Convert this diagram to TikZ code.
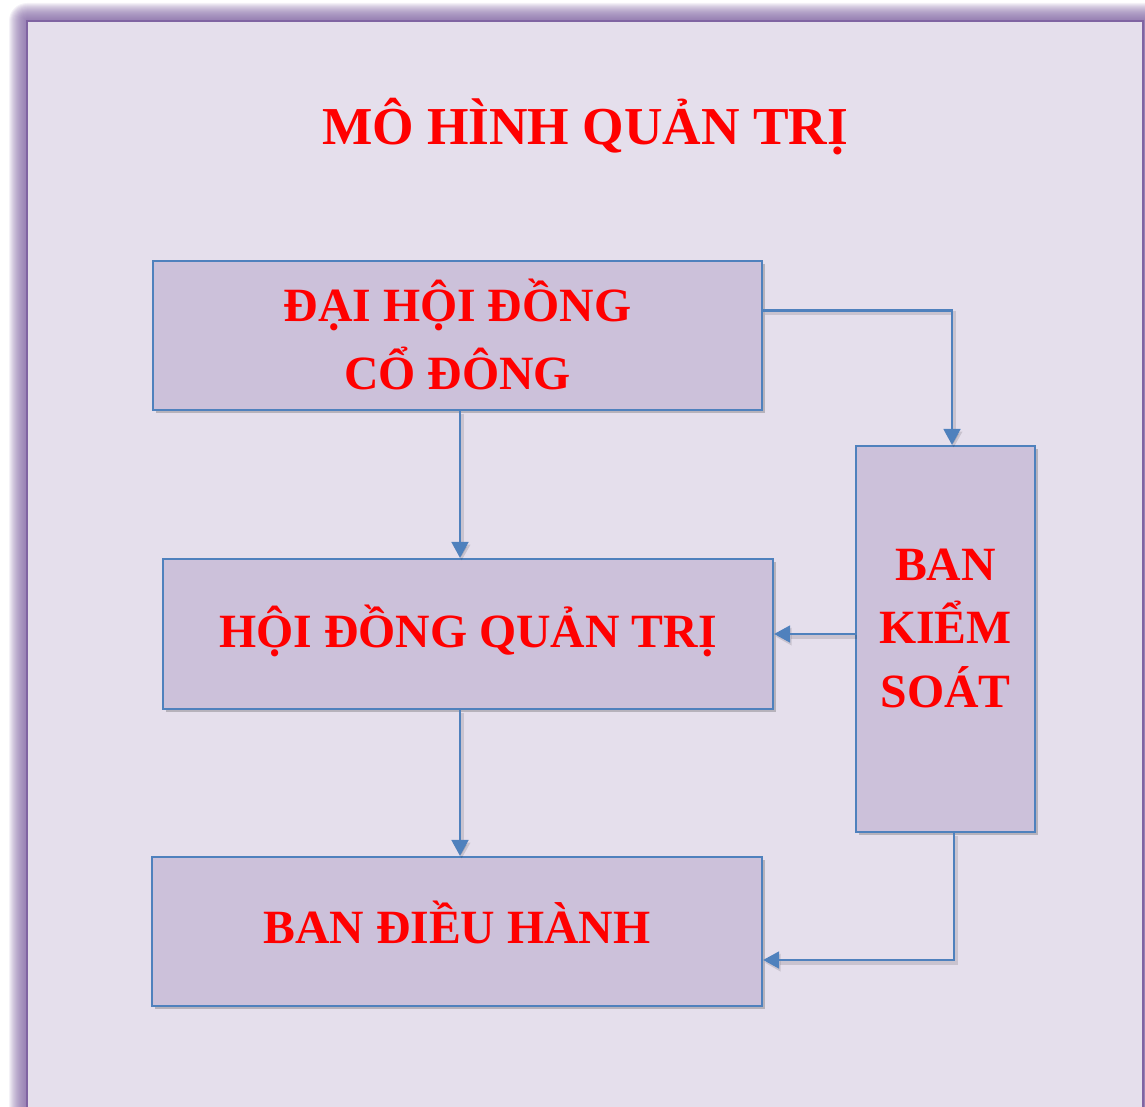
\documentclass[tikz,border=0pt]{standalone}
\usepackage{fontspec}
\setmainfont{Liberation Serif}
\usetikzlibrary{arrows.meta, calc, positioning, shadows}
\definecolor{framebg}{RGB}{229,223,236}
\definecolor{framepurple}{RGB}{128,100,162}
\definecolor{boxfill}{RGB}{204,193,218}
\definecolor{boxblue}{RGB}{79,129,189}
\definecolor{textred}{RGB}{255,0,0}

\begin{document}
\begin{tikzpicture}[x=0.75pt, y=-0.75pt, >=Triangle,
    box/.style={draw=boxblue, line width=1.6pt, fill=boxfill, text=textred,
        font=\fontsize{35.8}{51}\selectfont\bfseries, align=center, inner sep=0pt,
        text depth=5pt,
        drop shadow={shadow xshift=2pt, shadow yshift=-2.5pt, opacity=0.3, fill=black!70}},
    link/.style={draw=boxblue, line width=2pt, -{Triangle[length=12pt, width=12.5pt]},
        preaction={draw=black, opacity=0.12, line width=3pt,
            transform canvas={shift={(1.2pt,-2pt)}}}}]
    % Page and clip
    \useasboundingbox (0,0) rectangle (1145,1106);
    \clip (0,0) rectangle (1145,1106);

    % Glow round the frame
    \foreach \k in {1,...,18}
        \fill[framepurple, opacity=0.085, rounded corners=\k*0.75pt]
            (27-\k,21-\k) rectangle (1200,1160);

    % Frame
    \draw[framepurple, line width=2.2pt, fill=framebg] (27,21) rectangle (1143,1200);

    % Title
    \node[text=textred, font=\fontsize{40}{48}\selectfont\bfseries, anchor=base]
        (title) at (585,144) {MÔ HÌNH QUẢN TRỊ};

    % Boxes
    \node[box, minimum width=456.75pt, minimum height=111.75pt, text height=85.25pt]
        (dhdcd) at (457.5,335.5) {ĐẠI HỘI ĐỒNG\\CỔ ĐÔNG};
    \node[box, minimum width=457.5pt, minimum height=112.5pt, text height=24.5pt]
        (hdqt) at (468,634) {HỘI ĐỒNG QUẢN TRỊ};
    \node[box, minimum width=457.5pt, minimum height=111.75pt, text height=22.25pt]
        (bdh) at (457,931.5) {BAN ĐIỀU HÀNH};
    \node[box, minimum width=134.25pt, minimum height=289.5pt, text height=107pt,
        font=\fontsize{35.8}{47.6}\selectfont\bfseries]
        (bks) at (945.5,639) {BAN\\KIỂM\\SOÁT};

    % Links
    \coordinate (c1) at ($(dhdcd.east)+(0,-25)$);
    \coordinate (c2) at ($(bks.north)+(6.5,0)$);
    \coordinate (c3) at ($(bks.south)+(8.5,0)$);
    \coordinate (c4) at ($(bdh.east)+(0,28.5)$);
    \draw[link] (dhdcd.south -| 460,0) -- (hdqt.north -| 460,0);
    \draw[link] (c1) -| (c2);
    \draw[link] (bks.west |- hdqt.east) -- (hdqt.east);
    \draw[link] (hdqt.south -| 460,0) -- (bdh.north -| 460,0);
    \draw[link] (c3) |- (c4);
\end{tikzpicture}
\end{document}
